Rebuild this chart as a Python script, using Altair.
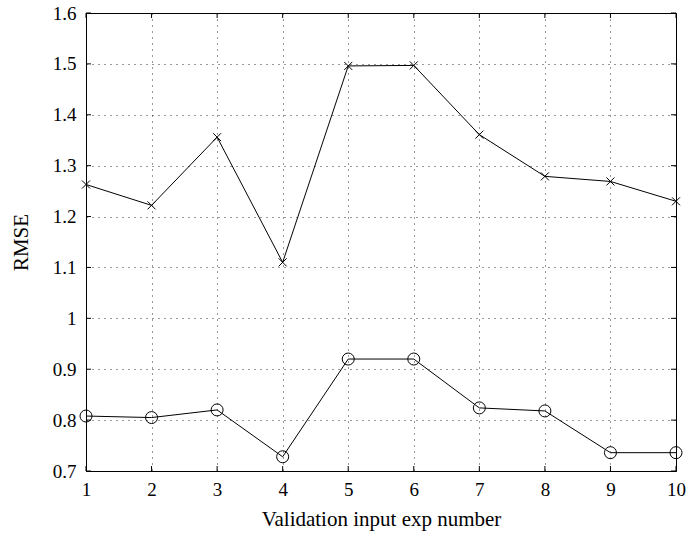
import altair as alt
import pandas as pd

exp_number = [1, 2, 3, 4, 5, 6, 7, 8, 9, 10]
rmse_cross = [1.263, 1.222, 1.356, 1.110, 1.496, 1.497, 1.361, 1.279, 1.269, 1.230]
rmse_circle = [0.808, 0.805, 0.820, 0.728, 0.920, 0.920, 0.824, 0.818, 0.736, 0.736]
x_ticks = [1, 2, 3, 4, 5, 6, 7, 8, 9, 10]
y_ticks = [0.7, 0.8, 0.9, 1.0, 1.1, 1.2, 1.3, 1.4, 1.5, 1.6]

W, H = 590, 458
FONT = "Liberation Serif"

df = pd.DataFrame({"x": exp_number, "cross": rmse_cross, "circle": rmse_circle})
xt = pd.DataFrame({"t": x_ticks})
yt = pd.DataFrame({"t": y_ticks})

xscale = alt.Scale(domain=[1, 10], nice=False, zero=False)
yscale = alt.Scale(domain=[0.7, 1.6], nice=False, zero=False)

xaxis = alt.Axis(values=x_ticks, format="d", title="Validation input exp number", grid=True,
                 gridDash=[1, 5], gridColor="#000", gridOpacity=0.8, gridWidth=1,
                 tickSize=0, labelPadding=9, labelFont=FONT, labelFontSize=19,
                 labelColor="#000", titleFont=FONT, titleFontSize=21,
                 titleFontWeight="normal", titleColor="#000", titlePadding=9,
                 domainColor="#000", domainWidth=1, labelFlush=False)
yaxis = alt.Axis(values=y_ticks, format="~g", title="RMSE", grid=True,
                 gridDash=[1, 5], gridColor="#000", gridOpacity=0.8, gridWidth=1,
                 tickSize=0, labelPadding=10, labelFont=FONT, labelFontSize=19,
                 labelColor="#000", titleFont=FONT, titleFontSize=21,
                 titleFontWeight="normal", titleColor="#000", titlePadding=21,
                 domainColor="#000", domainWidth=1, labelFlush=False)

base = alt.Chart(df)

line_cross = base.mark_line(color="#000", strokeWidth=1).encode(
    x=alt.X("x:Q", scale=xscale, axis=xaxis),
    y=alt.Y("cross:Q", scale=yscale, axis=yaxis),
)
pts_cross = base.mark_point(shape="M-1,-1L1,1M-1,1L1,-1", size=64, color="#000",
                            strokeWidth=1, filled=False, opacity=1).encode(
    x=alt.X("x:Q", scale=xscale),
    y=alt.Y("cross:Q", scale=yscale),
)
line_circle = base.mark_line(color="#000", strokeWidth=1).encode(
    x=alt.X("x:Q", scale=xscale),
    y=alt.Y("circle:Q", scale=yscale),
)
pts_circle = base.mark_point(shape="circle", size=144, color="#000",
                             strokeWidth=1, filled=False, opacity=1).encode(
    x=alt.X("x:Q", scale=xscale),
    y=alt.Y("circle:Q", scale=yscale),
)

# inward tick marks on all four sides
tx_bottom = alt.Chart(xt).mark_rule(color="#000", strokeWidth=1).encode(
    x=alt.X("t:Q", scale=xscale), y=alt.value(H), y2=alt.value(H - 5))
tx_top = alt.Chart(xt).mark_rule(color="#000", strokeWidth=1).encode(
    x=alt.X("t:Q", scale=xscale), y=alt.value(0), y2=alt.value(5))
ty_left = alt.Chart(yt).mark_rule(color="#000", strokeWidth=1).encode(
    y=alt.Y("t:Q", scale=yscale), x=alt.value(0), x2=alt.value(5))
ty_right = alt.Chart(yt).mark_rule(color="#000", strokeWidth=1).encode(
    y=alt.Y("t:Q", scale=yscale), x=alt.value(W - 5), x2=alt.value(W))

chart = alt.layer(
    tx_bottom, tx_top, ty_left, ty_right,
    line_cross, pts_cross, line_circle, pts_circle,
).properties(
    width=W, height=H,
    autosize=alt.AutoSizeParams(type="none"),
    padding={"left": 86, "top": 13, "right": 10, "bottom": 64},
    background="white",
).configure_view(
    stroke="#000", strokeWidth=1, fill="white"
)

chart.save("out.html", embed_options={"renderer": "svg", "actions": False})
